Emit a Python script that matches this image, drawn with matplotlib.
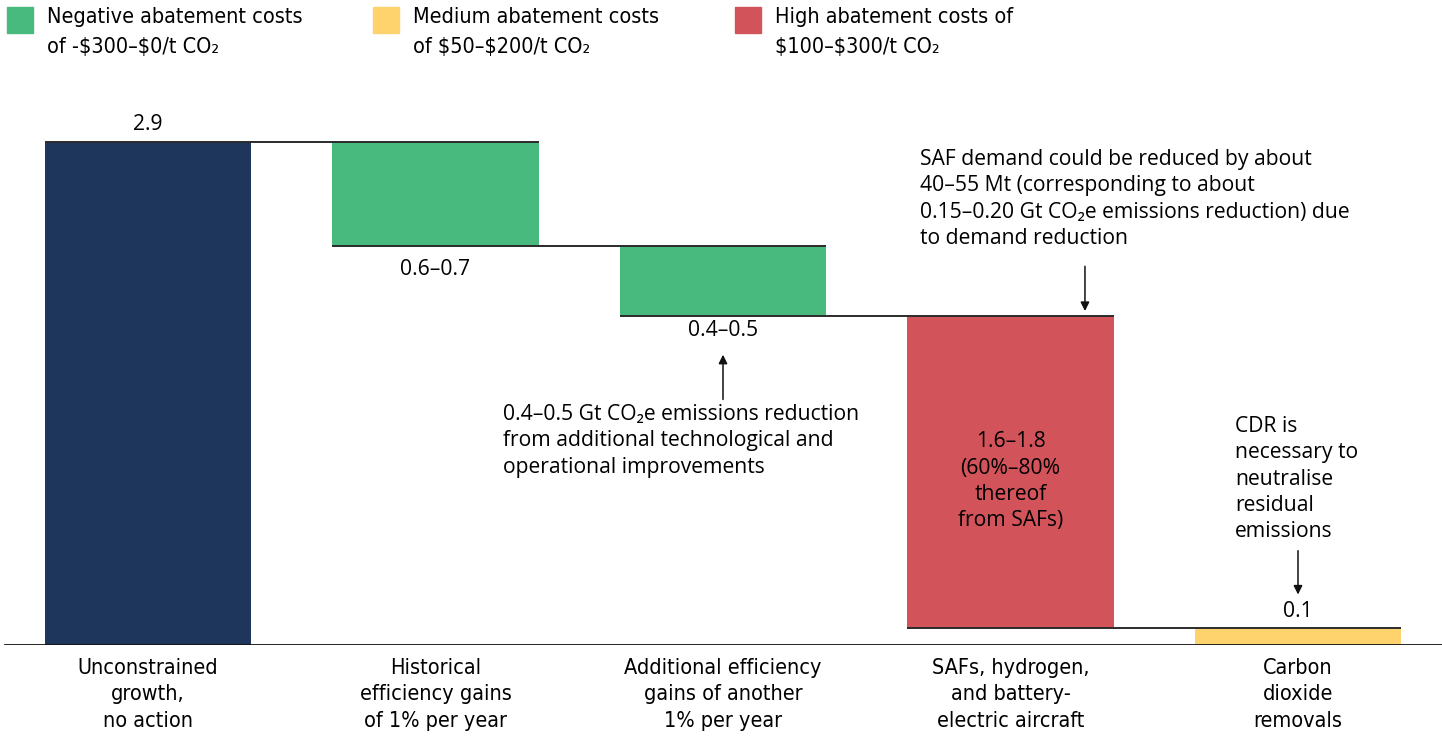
import matplotlib.pyplot as plt
from matplotlib.patches import Rectangle
from matplotlib import font_manager

# data
categories = [
    "Unconstrained\ngrowth,\nno action",
    "Historical\nefficiency gains\nof 1% per year",
    "Additional efficiency\ngains of another\n1% per year",
    "SAFs, hydrogen,\nand battery-\nelectric aircraft",
    "Carbon\ndioxide\nremovals",
]
values = [2.9, -0.6, -0.4, -1.8, 0.1]
bar_labels = ["2.9", "0.6–0.7", "0.4–0.5", "1.6–1.8\n(60%–80%\nthereof\nfrom SAFs)", "0.1"]
cost_group = ["total", "negative", "negative", "high", "medium"]

legend_labels = [
    ("negative", "Negative abatement costs\nof -\\$300–\\$0/t CO₂"),
    ("medium", "Medium abatement costs\nof \\$50–\\$200/t CO₂"),
    ("high", "High abatement costs of\n\\$100–\\$300/t CO₂"),
]
colors = {
    "total": "#1f365c",
    "negative": "#48ba7e",
    "medium": "#fed36e",
    "high": "#d2545a",
}

# pick a narrow face for labels if one is installed
narrow = dict(family="Roboto")
for f in font_manager.fontManager.ttflist:
    if f.name == "Liberation Sans Narrow":
        narrow = dict(family="Liberation Sans Narrow")
        break
    if f.name == "DejaVu Sans" and f.stretch == "condensed":
        narrow = dict(family="DejaVu Sans", stretch="condensed")
body = ["Open Sans", "DejaVu Sans"]
fs = 15.2

fig = plt.figure(figsize=(14.42, 7.36), dpi=100)
ax = fig.add_axes([0, 91 / 736, 1, 645 / 736])

# waterfall geometry
bottoms, heights = [], []
level = 0.0
for i, v in enumerate(values):
    if i == 0 or i == len(values) - 1:
        bottoms.append(0.0)
        heights.append(abs(v))
        level = v
    else:
        level += v
        bottoms.append(level)
        heights.append(-v)

x = list(range(len(values)))
width = 0.717
ax.bar(x, heights, bottom=bottoms, width=width,
       color=[colors[c] for c in cost_group], zorder=2)

# connectors
tops = [b + h for b, h in zip(bottoms, heights)]
for i in range(len(values) - 1):
    lvl = tops[i] if i == 0 else bottoms[i]
    ax.hlines(lvl, i - width / 2, i + 1 + width / 2, color="#2b2b2b", lw=1.4, zorder=3)

# value labels
for i, lab in enumerate(bar_labels):
    if i == 0:
        ax.annotate(lab, (i, tops[i]), xytext=(0, 13), textcoords="offset points",
                    ha="center", va="center", fontsize=fs, family=body)
    elif i == 4:
        ax.annotate(lab, (i, tops[i]), xytext=(0, 11.5), textcoords="offset points",
                    ha="center", va="center", fontsize=fs, family=body)
    elif i == 3:
        ax.annotate(lab, (i, bottoms[i] + heights[i] / 2), xytext=(0, -7),
                    textcoords="offset points", ha="center", va="center",
                    fontsize=fs, family=body, linespacing=1.33)
    else:
        off = -17 if i == 1 else -11
        ax.annotate(lab, (i, bottoms[i]), xytext=(0, off), textcoords="offset points",
                    ha="center", va="center", fontsize=fs, family=body)

# annotations with arrows
arrow = dict(arrowstyle="-|>", color="#111111", lw=1.1, mutation_scale=13)
ax.annotate("", xy=(2, 1.69), xytext=(2, 1.40), arrowprops=arrow)
ax.text(1.235, 1.39, "0.4–0.5 Gt CO₂e emissions reduction\nfrom additional technological and\noperational improvements",
        ha="left", va="top", fontsize=fs, family=body, linespacing=1.33)

ax.annotate("", xy=(3.259, 1.91), xytext=(3.259, 2.20), arrowprops=arrow)
ax.text(2.685, 2.86, "SAF demand could be reduced by about\n40–55 Mt (corresponding to about\n0.15–0.20 Gt CO₂e emissions reduction) due\nto demand reduction",
        ha="left", va="top", fontsize=fs, family=body, linespacing=1.33)

ax.annotate("", xy=(4, 0.275), xytext=(4, 0.56), arrowprops=arrow)
ax.text(3.781, 1.32, "CDR is\nnecessary to\nneutralise\nresidual\nemissions",
        ha="left", va="top", fontsize=fs, family=body, linespacing=1.33)

# axes
ax.set_xlim(-148 / 287.5, (1442 - 148) / 287.5)
ax.set_ylim(0, 645 / 173.4)
ax.axhline(0, xmin=5 / 1442, xmax=1, color="#111111", lw=2, zorder=4)
for s in ax.spines.values():
    s.set_visible(False)
ax.set_yticks([])
ax.set_xticks(x)
ax.set_xticklabels(categories, fontsize=15.5, linespacing=1.42, **narrow)
ax.tick_params(axis="x", length=0, pad=9)

# legend
lx = [7, 373, 735]
for (key, text), px in zip(legend_labels, lx):
    fig.patches.append(Rectangle((px / 1442, 1 - 33 / 736), 26 / 1442, 26 / 736,
                                 transform=fig.transFigure, color=colors[key]))
    fig.text((px + 40) / 1442, 1 - 7 / 736, text, ha="left", va="top",
             fontsize=15.5, linespacing=1.6, **narrow)

fig.savefig("out.png", dpi=100)
